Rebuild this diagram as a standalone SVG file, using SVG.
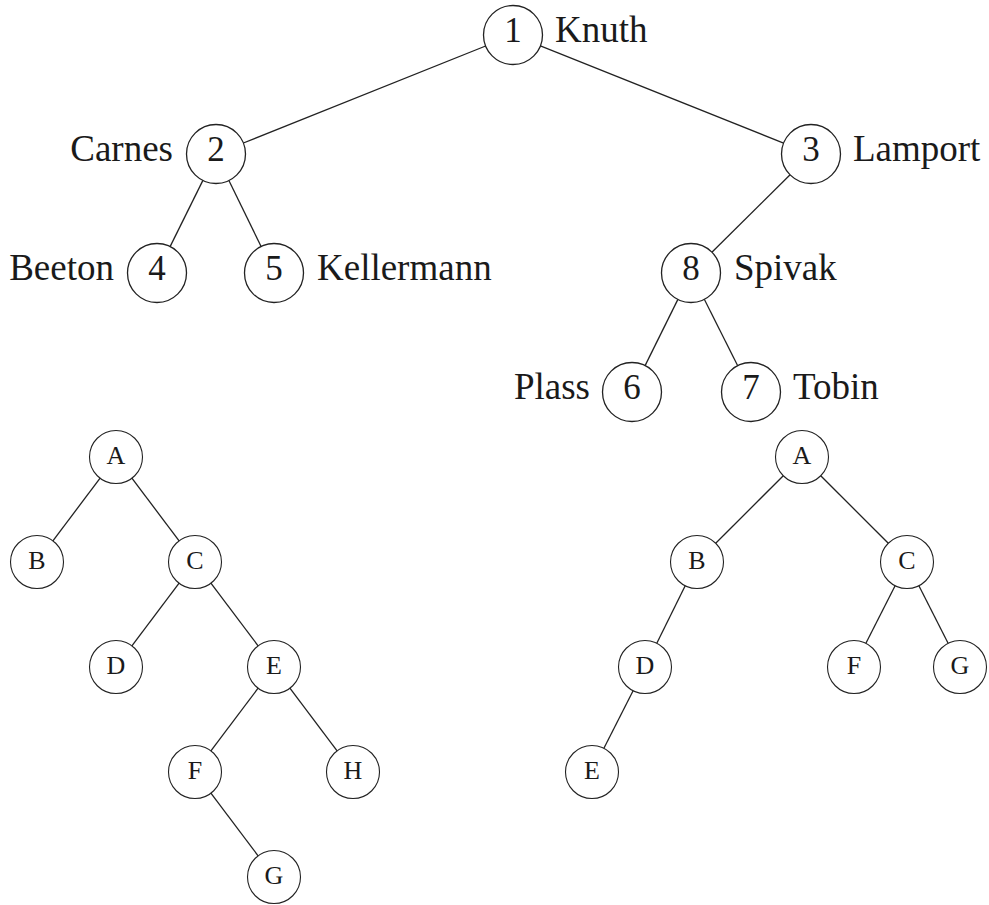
<svg xmlns="http://www.w3.org/2000/svg" width="989" height="905" viewBox="0 0 989 905">
  <style>
    .edge { stroke: #222; stroke-width: 1.3; fill: none; }
    .big circle { fill: #fff; stroke: #222; stroke-width: 1.3; }
    .small circle { fill: #fff; stroke: #222; stroke-width: 1.1; }
    .num { font-family: "Liberation Serif", "DejaVu Serif", serif; font-size: 35px; fill: #1a1a1a; text-anchor: middle; }
    .lab { font-family: "Liberation Serif", "DejaVu Serif", serif; font-size: 37px; fill: #1a1a1a; }
    .lab.l { text-anchor: end; }
    .let { font-family: "Liberation Serif", "DejaVu Serif", serif; font-size: 26px; fill: #1a1a1a; text-anchor: middle; }
  </style>
  <rect width="989" height="905" fill="#fff"/>

  <!-- connectors -->
  <g id="edges" class="edge">
    <!-- named tree -->
    <line x1="485.6" y1="46.0" x2="243.4" y2="143.0"/>
    <line x1="540.4" y1="45.9" x2="783.6" y2="143.1"/>
    <line x1="202.9" y1="180.4" x2="170.1" y2="246.6"/>
    <line x1="228.9" y1="180.5" x2="261.1" y2="246.5"/>
    <line x1="790.1" y1="174.8" x2="711.9" y2="252.2"/>
    <line x1="677.9" y1="299.4" x2="645.1" y2="365.6"/>
    <line x1="704.3" y1="299.3" x2="737.7" y2="365.7"/>
    <!-- left letter tree -->
    <line x1="100.1" y1="478.2" x2="52.9" y2="540.8"/>
    <line x1="131.9" y1="478.2" x2="179.1" y2="540.8"/>
    <line x1="179.1" y1="583.2" x2="131.9" y2="645.8"/>
    <line x1="210.9" y1="583.2" x2="258.1" y2="645.8"/>
    <line x1="258.1" y1="688.2" x2="210.9" y2="750.8"/>
    <line x1="289.9" y1="688.2" x2="337.1" y2="750.8"/>
    <line x1="210.9" y1="793.2" x2="258.1" y2="855.8"/>
    <!-- right letter tree -->
    <line x1="783.3" y1="475.7" x2="715.7" y2="543.3"/>
    <line x1="820.7" y1="475.7" x2="888.3" y2="543.3"/>
    <line x1="685.2" y1="585.7" x2="656.8" y2="643.3"/>
    <line x1="633.1" y1="690.7" x2="603.9" y2="748.3"/>
    <line x1="895.1" y1="585.7" x2="865.9" y2="643.3"/>
    <line x1="918.9" y1="585.7" x2="948.1" y2="643.3"/>
  </g>

  <!-- named tree nodes -->
  <g class="big">
    <g id="n1"><circle cx="513" cy="35" r="29.5"/><text class="num" x="513" y="42">1</text><text class="lab" x="555" y="42">Knuth</text></g>
    <g id="n2"><circle cx="216" cy="154" r="29.5"/><text class="num" x="216" y="161">2</text><text class="lab l" x="173" y="161">Carnes</text></g>
    <g id="n3"><circle cx="811" cy="154" r="29.5"/><text class="num" x="811" y="161">3</text><text class="lab" x="853" y="161">Lamport</text></g>
    <g id="n4"><circle cx="157" cy="273" r="29.5"/><text class="num" x="157" y="280">4</text><text class="lab l" x="114" y="280">Beeton</text></g>
    <g id="n5"><circle cx="274" cy="273" r="29.5"/><text class="num" x="274" y="280">5</text><text class="lab" x="317" y="280">Kellermann</text></g>
    <g id="n8"><circle cx="691" cy="273" r="29.5"/><text class="num" x="691" y="280">8</text><text class="lab" x="734" y="280">Spivak</text></g>
    <g id="n6"><circle cx="632" cy="392" r="29.5"/><text class="num" x="632" y="399">6</text><text class="lab l" x="590" y="399">Plass</text></g>
    <g id="n7"><circle cx="751" cy="392" r="29.5"/><text class="num" x="751" y="399">7</text><text class="lab" x="793" y="399">Tobin</text></g>
  </g>

  <!-- left letter tree nodes -->
  <g class="small">
    <g id="la"><circle cx="116" cy="457" r="26.5"/><text class="let" x="116" y="464">A</text></g>
    <g id="lb"><circle cx="37" cy="562" r="26.5"/><text class="let" x="37" y="569">B</text></g>
    <g id="lc"><circle cx="195" cy="562" r="26.5"/><text class="let" x="195" y="569">C</text></g>
    <g id="ld"><circle cx="116" cy="667" r="26.5"/><text class="let" x="116" y="674">D</text></g>
    <g id="le"><circle cx="274" cy="667" r="26.5"/><text class="let" x="274" y="674">E</text></g>
    <g id="lf"><circle cx="195" cy="772" r="26.5"/><text class="let" x="195" y="779">F</text></g>
    <g id="lh"><circle cx="353" cy="772" r="26.5"/><text class="let" x="353" y="779">H</text></g>
    <g id="lg"><circle cx="274" cy="877" r="26.5"/><text class="let" x="274" y="884">G</text></g>
  </g>

  <!-- right letter tree nodes -->
  <g class="small">
    <g id="ra"><circle cx="802" cy="457" r="26.5"/><text class="let" x="802" y="464">A</text></g>
    <g id="rb"><circle cx="697" cy="562" r="26.5"/><text class="let" x="697" y="569">B</text></g>
    <g id="rc"><circle cx="907" cy="562" r="26.5"/><text class="let" x="907" y="569">C</text></g>
    <g id="rd"><circle cx="645" cy="667" r="26.5"/><text class="let" x="645" y="674">D</text></g>
    <g id="rf"><circle cx="854" cy="667" r="26.5"/><text class="let" x="854" y="674">F</text></g>
    <g id="rg"><circle cx="960" cy="667" r="26.5"/><text class="let" x="960" y="674">G</text></g>
    <g id="re"><circle cx="592" cy="772" r="26.5"/><text class="let" x="592" y="779">E</text></g>
  </g>
</svg>
